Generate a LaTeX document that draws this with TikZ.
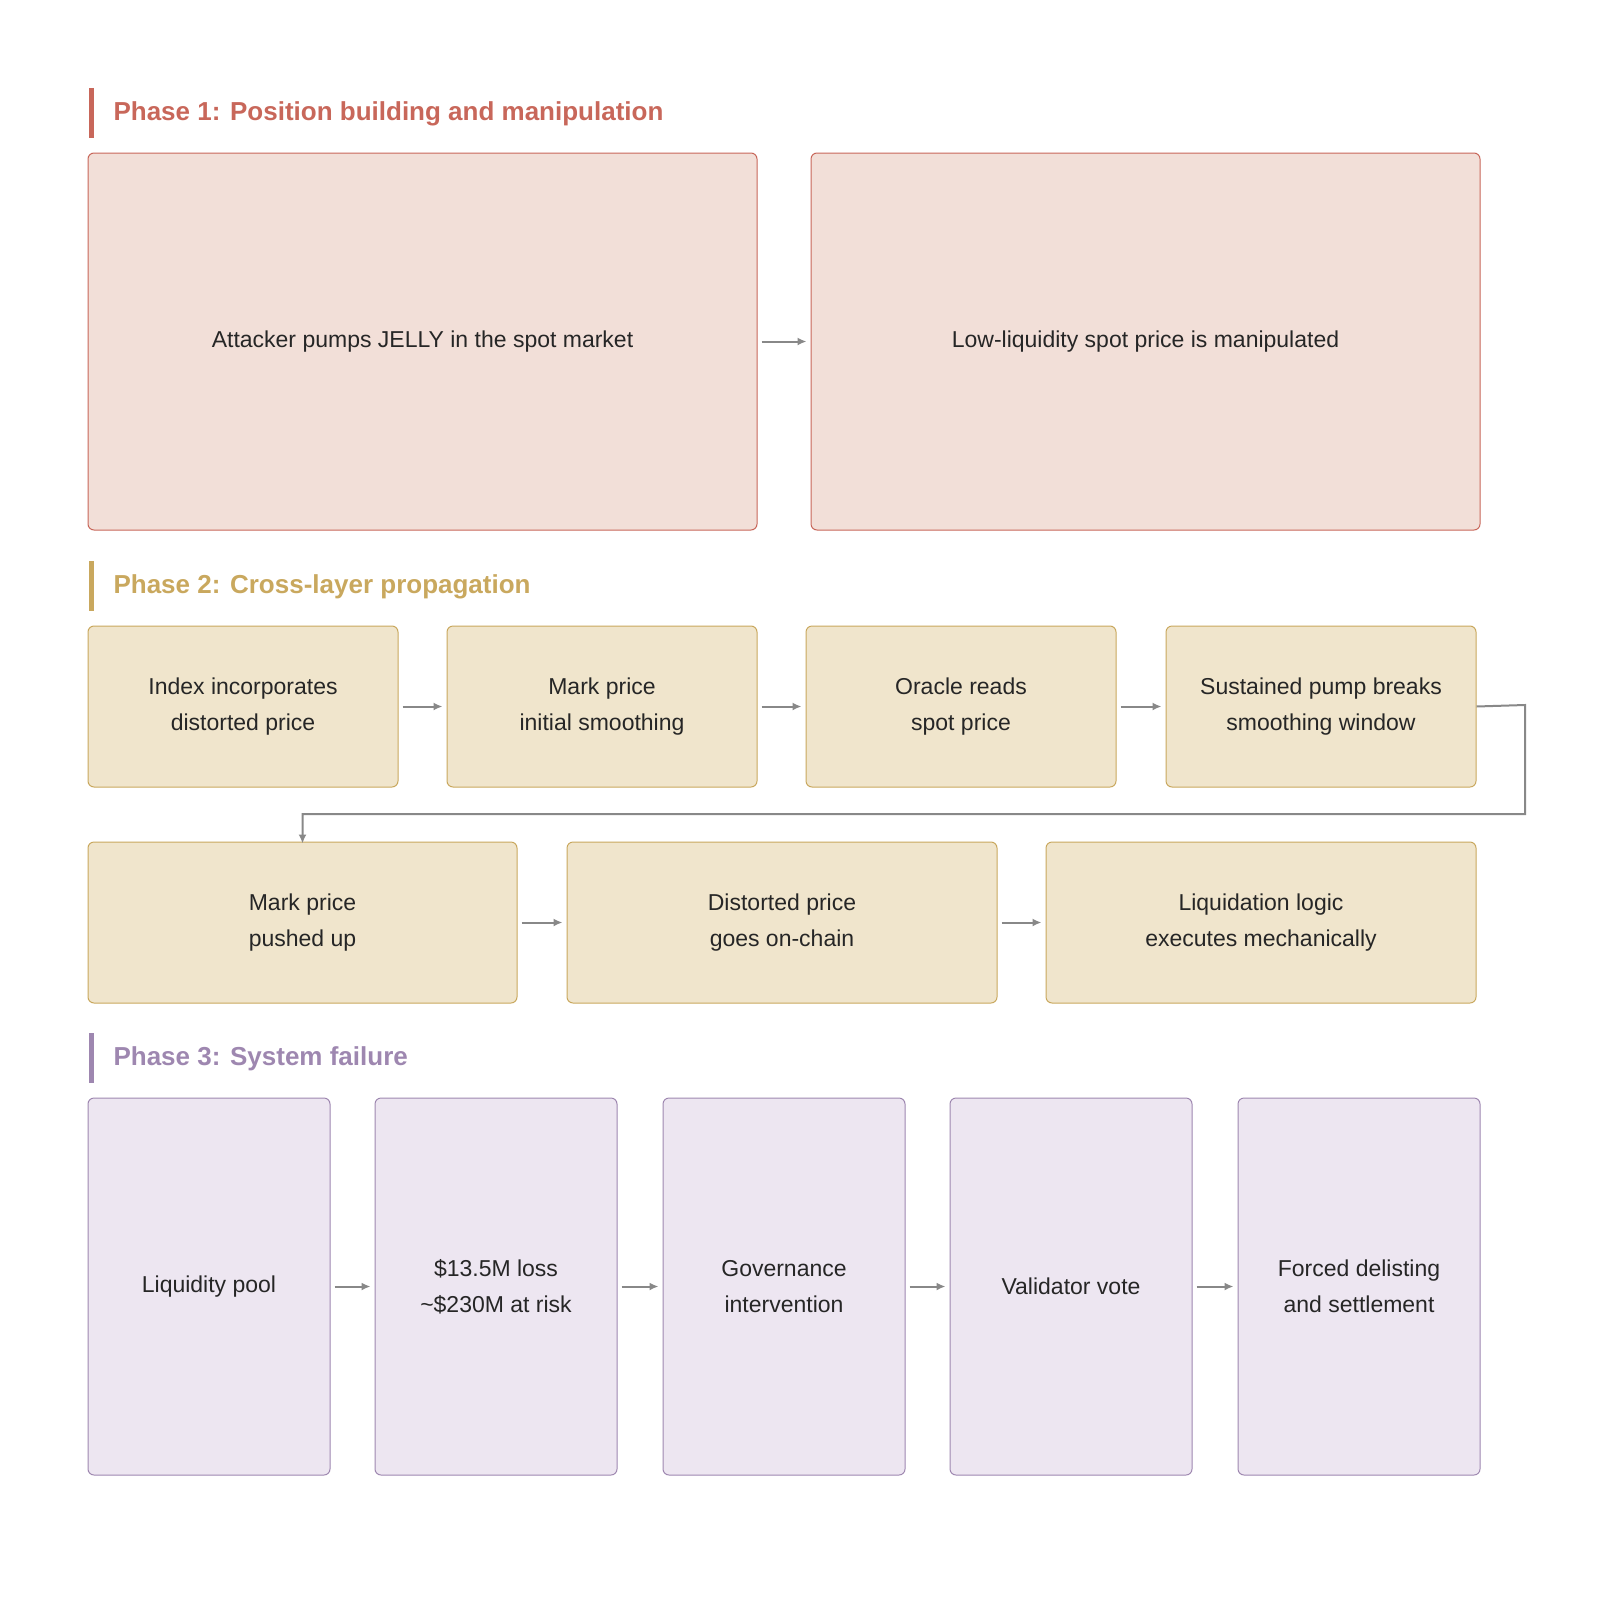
\documentclass[tikz,border=0pt]{standalone}
\usepackage{fontspec}
\setmainfont{Liberation Sans}
\usetikzlibrary{arrows.meta}
\definecolor{rF}{HTML}{F2DFD8}\definecolor{rD}{HTML}{C8675A}
\definecolor{yF}{HTML}{F0E5CC}\definecolor{yD}{HTML}{C9A85E}
\definecolor{pF}{HTML}{EDE6F1}\definecolor{pD}{HTML}{9E87B0}
\definecolor{ar}{HTML}{888888}
\begin{document}
\begin{tikzpicture}[x=1pt,y=-1pt,
 box/.style={draw,line width=1pt,rounded corners=6pt,align=center,font=\fontsize{23}{36}\selectfont,text=black!85,inner sep=0pt},
 ph/.style={anchor=west,font=\fontsize{26}{30}\selectfont\bfseries},
 bar/.style={line width=5pt},
 arr/.style={draw=ar,line width=2pt,-{Latex[length=9pt,width=8pt]}}]
\useasboundingbox (0,0) rectangle (1600,1600);
\newcommand{\bx}[7]{\node[box,draw=#6,fill=#7,minimum width=#3-#1,minimum height=#4-#2] (#5) at ({(#1+#3)/2},{(#2+#4)/2}) {};}
% Phase 1
\draw[bar,rD] (91,88)--(91,138);
\node[ph,text=rD] (h1) at (110,114) {Phase 1: Position building and manipulation};
\bx{88}{153}{757}{530}{a1}{rD}{rF}\node[font=\fontsize{23}{36}\selectfont,text=black!85] at (a1) {Attacker pumps JELLY in the spot market};
\bx{811}{153}{1480}{530}{a2}{rD}{rF}\node[font=\fontsize{23}{36}\selectfont,text=black!85] at (a2) {Low-liquidity spot price is manipulated};
\draw[arr] ([xshift=4pt]a1.east)--([xshift=-4pt]a2.west);
% Phase 2
\draw[bar,yD] (91,561)--(91,611);
\node[ph,text=yD] (h2) at (110,587) {Phase 2: Cross-layer propagation};
\bx{88}{626}{398}{787}{b1}{yD}{yF}
\bx{447}{626}{757}{787}{b2}{yD}{yF}
\bx{806}{626}{1116}{787}{b3}{yD}{yF}
\bx{1166}{626}{1476}{787}{b4}{yD}{yF}
\bx{88}{842}{517}{1003}{c1}{yD}{yF}
\bx{567}{842}{997}{1003}{c2}{yD}{yF}
\bx{1046}{842}{1476}{1003}{c3}{yD}{yF}
\tikzset{t/.style={align=center,font=\fontsize{23}{36}\selectfont,text=black!85}}
\node[t] at (b1) {Index incorporates\\distorted price};
\node[t] at (b2) {Mark price\\initial smoothing};
\node[t] at (b3) {Oracle reads\\spot price};
\node[t] at (b4) {Sustained pump breaks\\smoothing window};
\node[t] at (c1) {Mark price\\pushed up};
\node[t] at (c2) {Distorted price\\goes on-chain};
\node[t] at (c3) {Liquidation logic\\executes mechanically};
\foreach \u/\v in {b1/b2,b2/b3,b3/b4,c1/c2,c2/c3}
 \draw[arr] ([xshift=4pt]\u.east)--([xshift=-4pt]\v.west);
\coordinate (k1) at (1525,705); \coordinate (k2) at (1525,814);
\draw[arr] (b4.east)--(k1)--(k2)-|([yshift=-2pt]c1.north);
% Phase 3
\draw[bar,pD] (91,1033)--(91,1083);
\node[ph,text=pD] (h3) at (110,1059) {Phase 3: System failure};
\bx{88}{1098}{330}{1475}{d1}{pD}{pF}
\bx{375}{1098}{617}{1475}{d2}{pD}{pF}
\bx{663}{1098}{905}{1475}{d3}{pD}{pF}
\bx{950}{1098}{1192}{1475}{d4}{pD}{pF}
\bx{1238}{1098}{1480}{1475}{d5}{pD}{pF}
\node[t] at (d1) {Liquidity pool};
\node[t] at (d2) {\$13.5M loss\\\textasciitilde\$230M at risk};
\node[t] at (d3) {Governance\\intervention};
\node[t] at (d4) {Validator vote};
\node[t] at (d5) {Forced delisting\\and settlement};
\foreach \u/\v in {d1/d2,d2/d3,d3/d4,d4/d5}
 \draw[arr] ([xshift=4pt]\u.east)--([xshift=-4pt]\v.west);
\end{tikzpicture}
\end{document}
